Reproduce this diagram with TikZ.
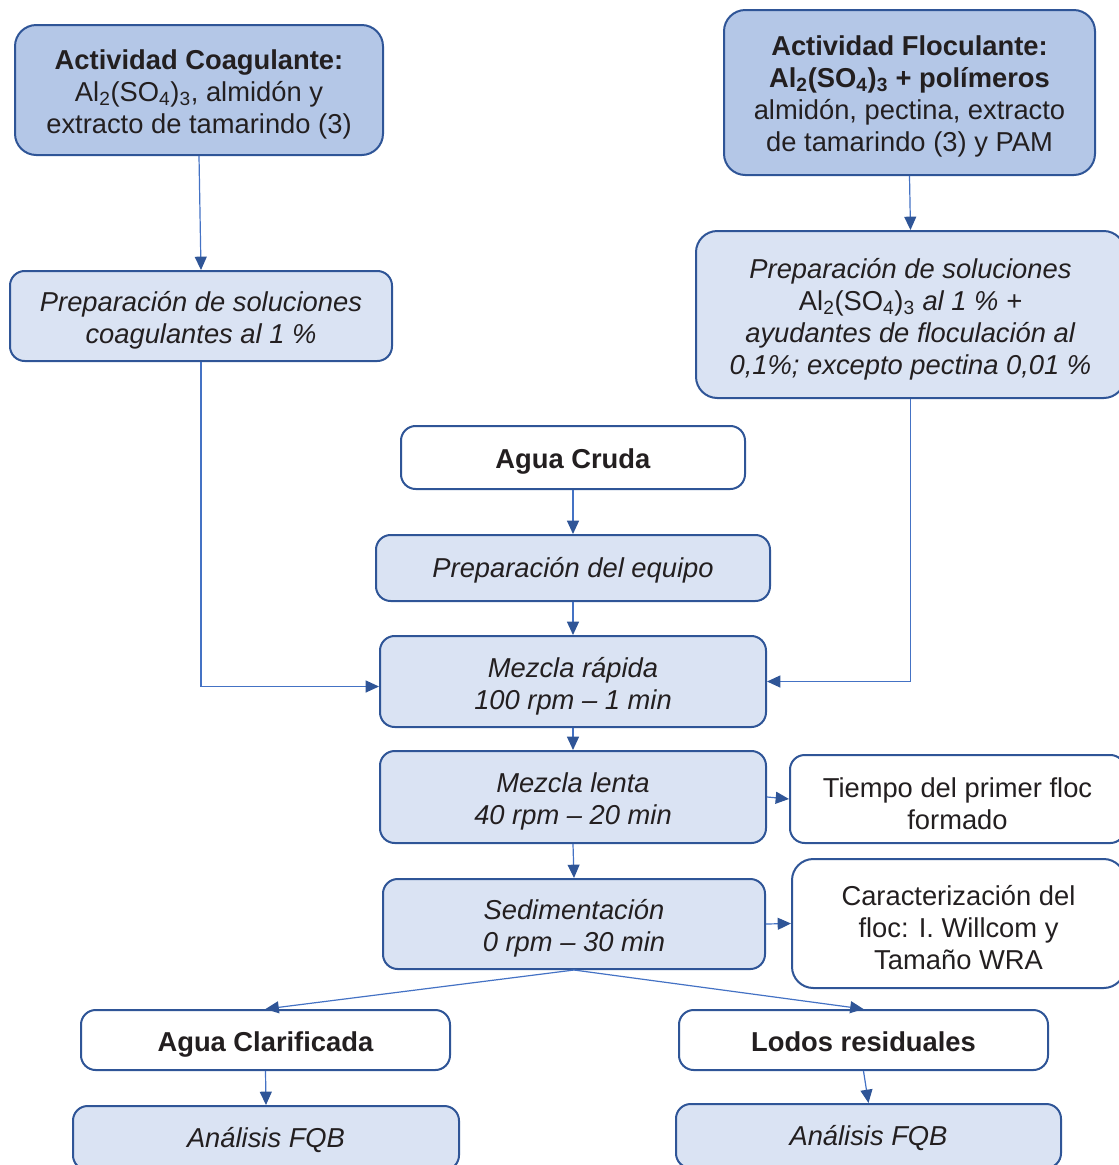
\documentclass[tikz,border=0pt]{standalone}
\usepackage{fontspec}
\setmainfont{Liberation Sans}
\usetikzlibrary{arrows.meta}
\definecolor{bdr}{HTML}{2F5597}
\definecolor{ln}{HTML}{4472C4}
\definecolor{dkfill}{HTML}{B4C7E7}
\definecolor{ltfill}{HTML}{DAE3F3}
\definecolor{txt}{HTML}{231F20}
\tikzset{
  basebox/.style={draw=bdr, line width=1.5pt, rounded corners=11pt, inner sep=0pt},
  darkbox/.style={basebox, fill=dkfill, rounded corners=16pt},
  lightbox/.style={basebox, fill=ltfill},
  whitebox/.style={basebox, fill=white},
  lbl/.style={inner sep=0pt, align=center, text=txt, font=\fontsize{20.5}{24}\selectfont, yshift=-3.2pt},
  conn/.style={draw=ln, line width=0.9pt, -{Triangle[length=10pt,width=9pt,color=bdr]}},
}
\begin{document}
\begin{tikzpicture}[x=0.75pt,y=-0.75pt]
\useasboundingbox (0,0) rectangle (1119,1165);
\clip (0,0) rectangle (1119,1165);

% boxes
\node[darkbox, minimum width=276pt, minimum height=97.5pt] (coag) at (199,90) {};
\node[darkbox, minimum width=278.25pt, minimum height=123.75pt] (floc) at (909.5,92.5) {};
\node[lightbox, minimum width=286.5pt, minimum height=67.5pt] (prepc) at (201,316) {};
\node[lightbox, minimum width=321.75pt, minimum height=125.25pt, rounded corners=16pt] (prepf) at (910.5,314.5) {};
\node[whitebox, minimum width=258pt, minimum height=47.25pt] (cruda) at (573,457.5) {};
\node[lightbox, minimum width=295.5pt, minimum height=49.5pt] (equipo) at (573,568) {};
\node[lightbox, minimum width=289.5pt, minimum height=68.25pt] (rapida) at (573,681.5) {};
\node[lightbox, minimum width=289.5pt, minimum height=69pt] (lenta) at (573,797) {};
\node[lightbox, minimum width=286.5pt, minimum height=67.5pt] (sed) at (574,924) {};
\node[whitebox, minimum width=251.25pt, minimum height=66pt] (tiempo) at (957.5,799) {};
\node[whitebox, minimum width=249.75pt, minimum height=96.75pt, rounded corners=16pt] (caract) at (958.5,923.5) {};
\node[whitebox, minimum width=276.75pt, minimum height=45pt] (clar) at (265.5,1040) {};
\node[whitebox, minimum width=276.75pt, minimum height=45pt] (lodos) at (863.5,1040) {};
\node[lightbox, minimum width=289.5pt, minimum height=48pt] (fqb1) at (266,1138) {};
\node[lightbox, minimum width=288.75pt, minimum height=48pt] (fqb2) at (868.5,1136) {};

% texts
\node[lbl] (coag-t) at (coag) {\textbf{Actividad Coagulante:}\\ Al\textsubscript{2}(SO\textsubscript{4})\textsubscript{3}, almidón y\\ extracto de tamarindo (3)};
\node[lbl] (floc-t) at (floc) {\textbf{Actividad Floculante:}\\ \textbf{Al\textsubscript{2}(SO\textsubscript{4})\textsubscript{3} + polímeros}\\ almidón, pectina, extracto\\ de tamarindo (3) y PAM};
\node[lbl] (prepc-t) at (prepc) {\textit{Preparación de soluciones}\\ \textit{coagulantes al 1 \%}};
\node[lbl] (prepf-t) at (prepf) {\textit{Preparación de soluciones}\\ Al\textsubscript{2}(SO\textsubscript{4})\textsubscript{3} \textit{al 1 \% +}\\ \textit{ayudantes de floculación al}\\ \textit{0,1\%; excepto pectina 0,01 \%}};
\node[lbl] (cruda-t) at (cruda) {\textbf{Agua Cruda}};
\node[lbl] (equipo-t) at ([yshift=1.5pt]equipo) {\textit{Preparación del equipo}};
\node[lbl] (rapida-t) at (rapida) {\textit{Mezcla rápida}\\ \textit{100 rpm – 1 min}};
\node[lbl] (lenta-t) at (lenta) {\textit{Mezcla lenta}\\ \textit{40 rpm – 20 min}};
\node[lbl] (sed-t) at (sed) {\textit{Sedimentación}\\ \textit{0 rpm – 30 min}};
\node[lbl] (tiempo-t) at (tiempo) {Tiempo del primer floc\\ formado};
\node[lbl] (caract-t) at (caract) {Caracterización del\\ floc: I. Willcom y\\ Tamaño WRA};
\node[lbl] (clar-t) at (clar) {\textbf{Agua Clarificada}};
\node[lbl] (lodos-t) at (lodos) {\textbf{Lodos residuales\vphantom{g}}};
\node[lbl] (fqb1-t) at ([yshift=1.5pt]fqb1) {\textit{Análisis FQB}};
\node[lbl] (fqb2-t) at ([yshift=1.5pt]fqb2) {\textit{Análisis FQB}};

% connectors
\draw[conn] (coag.south) -- (prepc.north);
\draw[conn] (floc.south) -- (prepf.north);
\draw[conn] (prepc.south) |- ([yshift=-3.75pt]rapida.west);
\draw[conn] (prepf.south) |- (rapida.east);
\draw[conn] (cruda.south) -- (equipo.north);
\draw[conn] (equipo.south) -- (rapida.north);
\draw[conn] (rapida.south) -- (lenta.north);
\draw[conn] (lenta.south) -- (sed.north);
\draw[conn] (lenta.east) -- (tiempo.west);
\draw[conn] (sed.east) -- (caract.west);
\draw[conn] (sed.south) -- (clar.north);
\draw[conn] (sed.south) -- (lodos.north);
\draw[conn] (clar.south) -- (fqb1.north);
\draw[conn] (lodos.south) -- (fqb2.north);
\end{tikzpicture}
\end{document}
